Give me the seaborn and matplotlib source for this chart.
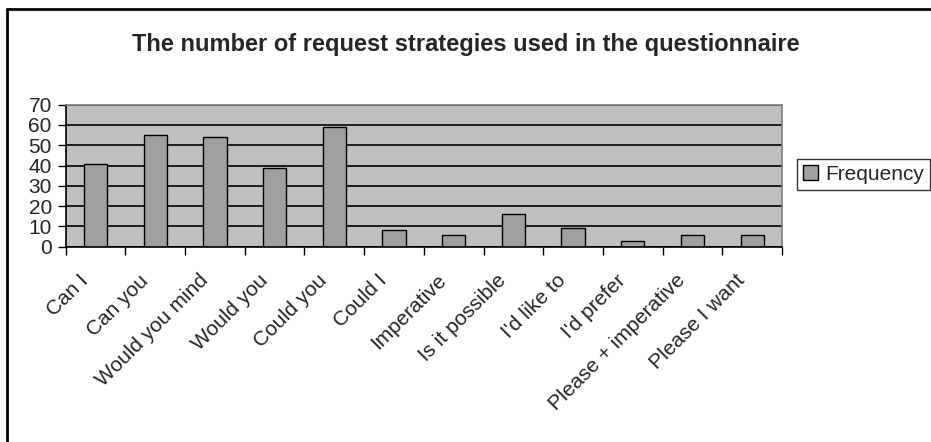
import matplotlib
matplotlib.use("Agg")
import matplotlib.pyplot as plt
import seaborn as sns
import pandas as pd
from matplotlib.lines import Line2D
from matplotlib.patches import Patch

# Data
strategies = ["Can I", "Can you", "Would you mind", "Would you", "Could you",
              "Could I", "Imperative", "Is it possible", "I'd like to",
              "I'd prefer", "Please + imperative", "Please I want"]
frequency = [41, 55, 54, 39, 59, 8, 6, 16, 9, 3, 6, 6]
y_ticks = [0, 10, 20, 30, 40, 50, 60, 70]

df = pd.DataFrame({"strategy": strategies, "Frequency": frequency})

sns.set_theme(style="white")
plt.rcParams['font.family'] = ['Liberation Sans', 'DejaVu Sans']

W, H = 931, 442
fig = plt.figure(figsize=(W / 100, H / 100), dpi=100)
ax = fig.add_axes([65.7 / W, 1 - 246.7 / H, (782 - 65.7) / W, (246.7 - 104.7) / H])

ax.set_facecolor("#C0C0C0")
ax.set_axisbelow(True)
ax.yaxis.grid(True, color="black", linewidth=1.2)

sns.barplot(data=df, x="strategy", y="Frequency", ax=ax, color="#A0A0A0",
            saturation=1, edgecolor="black", linewidth=1, width=0.39)

ax.set_ylim(0, 70)
ax.set_xlim(-0.5, len(strategies) - 0.5)
ax.set_yticks(y_ticks)
ax.set_yticklabels([str(v) for v in y_ticks], fontsize=15)
ax.tick_params(axis="y", length=6, width=1, color="black", pad=4, direction="out", left=True)

# ticks sit on the category boundaries, labels are placed by hand
ax.set_xticks([i - 0.5 for i in range(len(strategies) + 1)])
ax.set_xticklabels([])
ax.tick_params(axis="x", length=6, width=1, color="black", direction="out", bottom=True)
for i, name in enumerate(strategies):
    ax.text(i - 0.28, -12, name, rotation=45, ha="right", va="top",
            rotation_mode="anchor", fontsize=15, clip_on=False)

ax.set_xlabel("")
ax.set_ylabel("")
for side in ["left", "bottom"]:
    ax.spines[side].set_color("black")
    ax.spines[side].set_linewidth(1.2)
for side in ["top", "right"]:
    ax.spines[side].set_color("#808080")
    ax.spines[side].set_linewidth(1.2)

fig.text(0.5, 1 - 45 / H, "The number of request strategies used in the questionnaire",
         ha="center", va="center", fontsize=17, fontweight="bold")

handle = Patch(facecolor="#A0A0A0", edgecolor="black", label="Frequency")
fig.legend(handles=[handle], loc="center left", bbox_to_anchor=(797 / W, 1 - 174.5 / H),
           frameon=True, fancybox=False, edgecolor="black", fontsize=15,
           handlelength=0.7, handleheight=0.7, handletextpad=0.35, borderpad=0.3,
           borderaxespad=0)

# outer frame only shows on the left and top edges
fig.add_artist(Line2D([7 / W, 7 / W], [0, 1 - 9 / H], transform=fig.transFigure,
                      color="black", linewidth=2))
fig.add_artist(Line2D([7 / W, 1], [1 - 9 / H, 1 - 9 / H], transform=fig.transFigure,
                      color="black", linewidth=2))

fig.savefig("out.png", dpi=100, facecolor="white")
